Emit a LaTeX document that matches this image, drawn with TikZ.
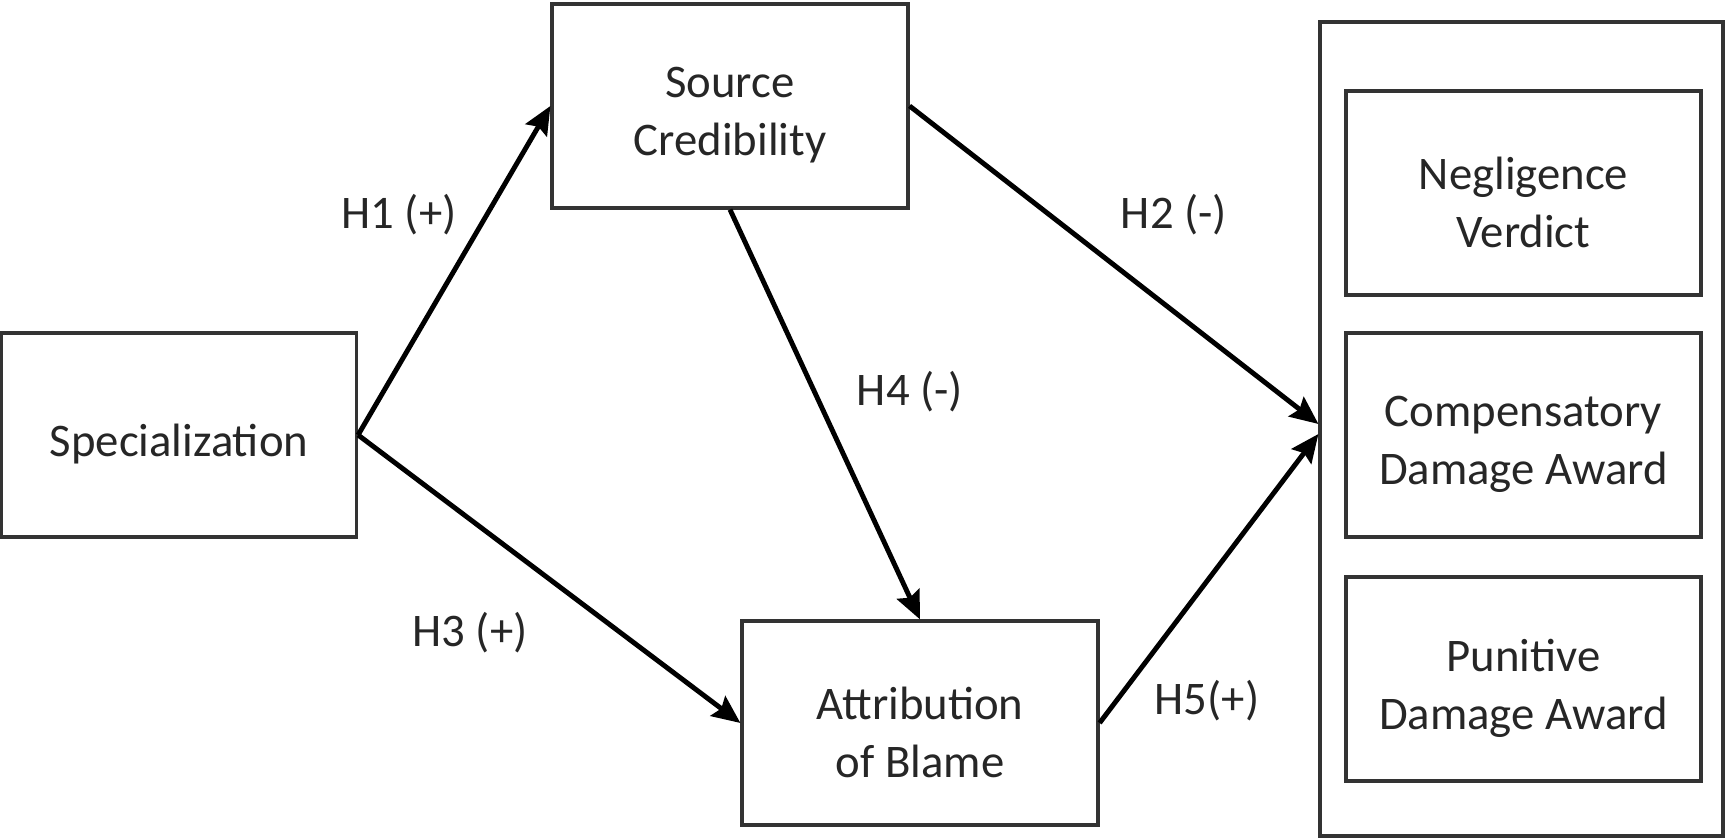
\documentclass[tikz,border=0pt]{standalone}
\usepackage{fontspec}
\setmainfont{Carlito}
\usetikzlibrary{arrows.meta}

\begin{document}
\begin{tikzpicture}[
  every node/.style={font=\fontsize{13.3}{16.5}\selectfont, text=black!85},
  varbox/.style={draw=black!80, line width=0.9pt, minimum width=3.56cm, minimum height=2.04cm, inner sep=0pt,
    label={[align=center, yshift=-0.09cm]center:#1}},
  path/.style={-{Stealth[length=8pt,width=7pt,inset=1.2pt]}, line width=1.4pt}
]
  \useasboundingbox (0,0) rectangle (17.25,8.38);
  % predictors and mediators
  \node[varbox={Specialization}, minimum width=3.55cm] (spec) at (1.79,4.03) {};
  \node[varbox={Source\\Credibility}] (src) at (7.30,7.32) {};
  \node[varbox={Attribution\\of Blame}] (attr) at (9.20,1.15) {};
  % outcomes
  \node[draw=black!80, line width=0.9pt, minimum width=4.03cm, minimum height=8.14cm, inner sep=0pt] (outcomes) at (15.215,4.09) {};
  \node[varbox={Negligence\\Verdict}, minimum width=3.55cm] (neg) at (15.235,6.45) {};
  \node[varbox={Compensatory\\Damage Award}, minimum width=3.55cm] (comp) at (15.235,4.03) {};
  \node[varbox={Punitive\\Damage Award}, minimum width=3.55cm] (pun) at (15.235,1.59) {};

  \draw[path] (spec.east) -- (src.west);
  \draw[path] (spec.east) -- (attr.west);
  \draw[path] (src.east) -- ([yshift=0.5mm]outcomes.west);
  \draw[path] (src.south) -- (attr.north);
  \draw[path] (attr.east) -- ([yshift=-0.5mm]outcomes.west);

  \node (h1) at (3.99,6.23) {H1 (+)};
  \node (h2) at (11.74,6.23) {H2 (-)};
  \node (h3) at (4.70,2.05) {H3 (+)};
  \node (h4) at (9.10,4.46) {H4 (-)};
  \node (h5) at (12.07,1.37) {H5(+)};
\end{tikzpicture}
\end{document}
